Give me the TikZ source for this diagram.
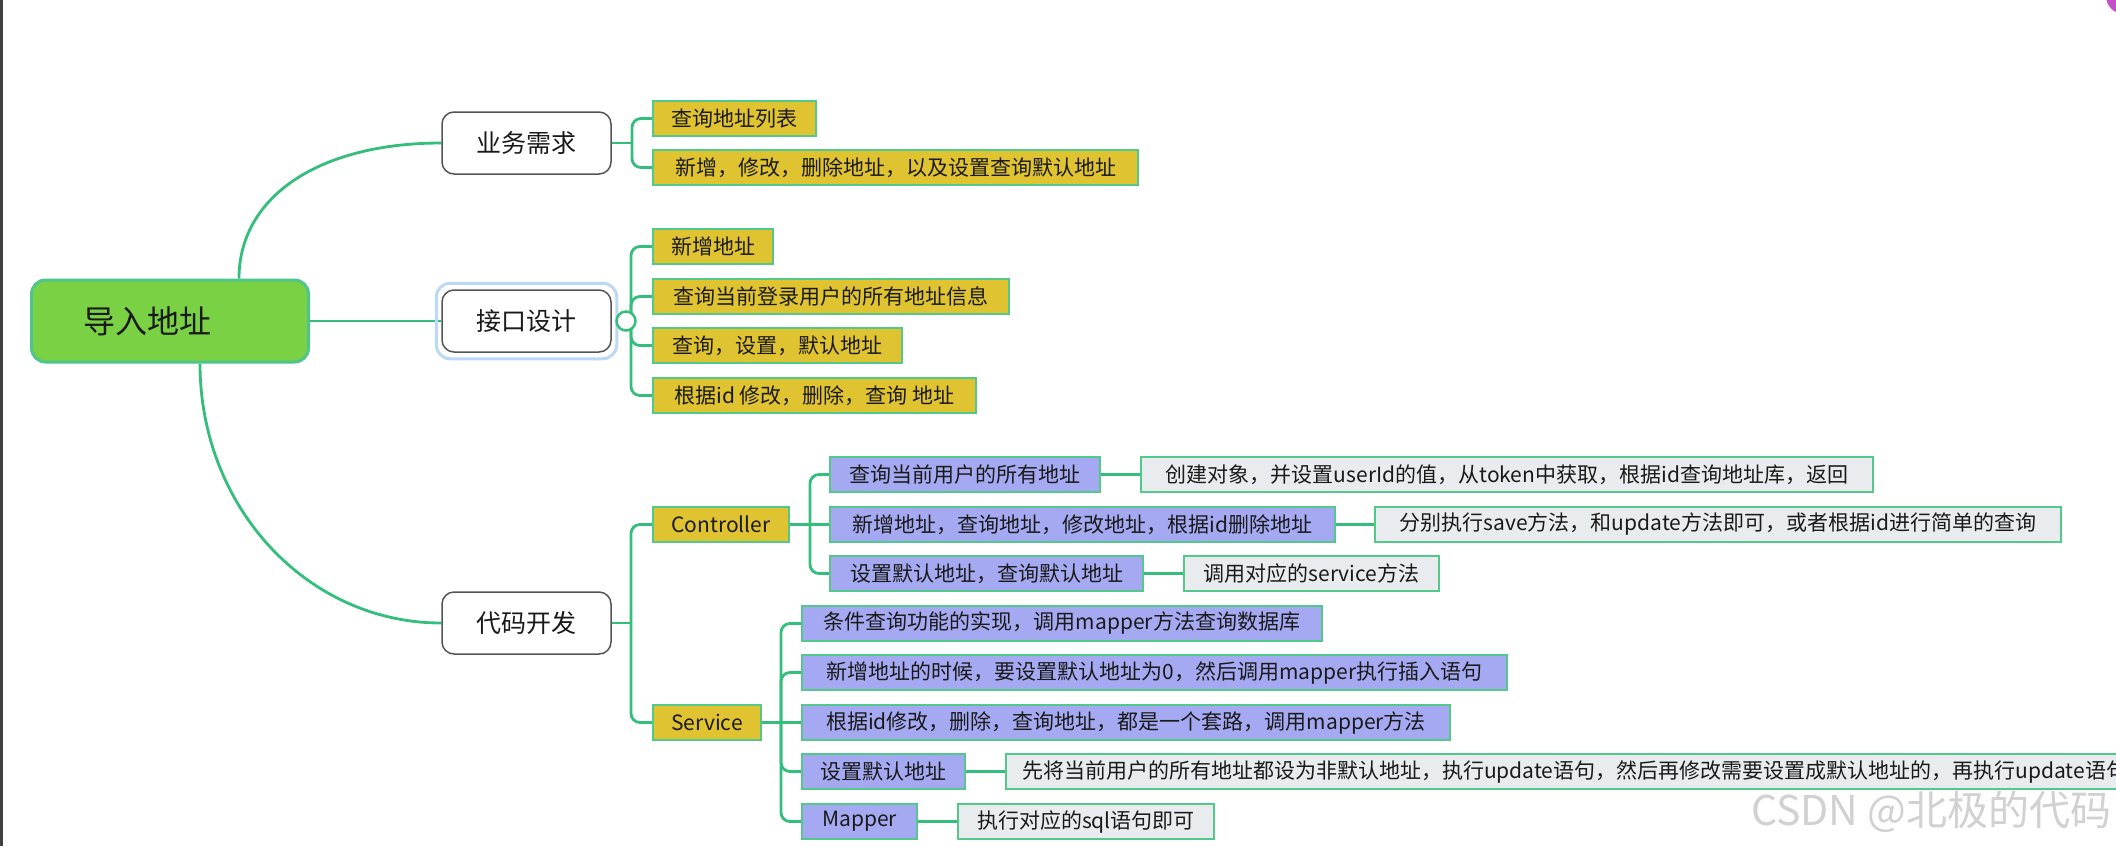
\documentclass[tikz,border=0pt]{standalone}
\usepackage{fontspec}
\setmainfont{Noto Sans CJK SC}
\usetikzlibrary{backgrounds,fit}
\definecolor{conn}{HTML}{33BE7B}
\definecolor{rootfill}{HTML}{7AD144}
\definecolor{rootdraw}{HTML}{4FC48C}
\definecolor{yel}{HTML}{E0C331}
\definecolor{pur}{HTML}{A4A9F2}
\definecolor{notec}{HTML}{E8ECEE}
\definecolor{bord}{HTML}{52C98A}
\definecolor{selc}{HTML}{BBD8F7}
\definecolor{txt}{HTML}{1A1A1A}
\definecolor{topicdraw}{HTML}{555555}
\definecolor{blob}{HTML}{C450C8}
\begin{document}
\begin{tikzpicture}[x=1pt,y=-1pt,
  link/.style={draw=conn, line width=2.8pt},
  bracket/.style={link, rounded corners=9pt},
  box/.style={draw=bord, line width=2pt, minimum height=35pt, inner xsep=0pt, inner ysep=0pt,
    text=txt, font=\fontsize{21}{24}\selectfont, anchor=west},
  ybox/.style={box, fill=yel},
  pbox/.style={box, fill=pur},
  nbox/.style={box, fill=notec},
  topic/.style={draw=topicdraw, line width=1.5pt, rounded corners=12pt, fill=white,
    minimum width=169pt, minimum height=62pt, inner sep=0pt, text=txt,
    font=\fontsize{25}{28}\selectfont},
  rootbox/.style={draw=rootdraw, line width=3pt, rounded corners=14pt, fill=rootfill,
    minimum width=277pt, minimum height=82pt, inner sep=0pt, text=txt,
    font=\fontsize{32}{36}\selectfont}]
\clip (0,0) rectangle (2116,846);

% root and topics
\node[rootbox] (root) at (170,321) {导入地址\hspace*{46pt}};
\node[topic] (t1) at (526.5,143) {业务需求};
\node[topic] (t2) at (526.5,321) {接口设计};
\node[topic] (t3) at (526.5,623) {代码开发};
\node[draw=selc, line width=3pt, rounded corners=14pt, fit=(t2), inner xsep=5pt, inner ysep=6pt] (t2sel) {};

% 业务需求
\node[ybox, minimum width=163pt] (a1) at (652,118.5) {查询地址列表};
\node[ybox, minimum width=485pt] (a2) at (652,167.5) {新增，修改，删除地址，以及设置查询默认地址};

% 接口设计
\node[ybox, minimum width=120pt] (b1) at (652,246.5) {新增地址};
\node[ybox, minimum width=356pt] (b2) at (652,296.5) {查询当前登录用户的所有地址信息};
\node[ybox, minimum width=249pt] (b3) at (652,345.5) {查询，设置，默认地址};
\node[ybox, minimum width=323pt] (b4) at (652,395.5) {根据id 修改，删除，查询 地址};

% 代码开发
\node[ybox, minimum width=136pt] (c1) at (652,524.5) {Controller};
\node[ybox, minimum width=108pt] (c2) at (652,722.5) {Service};

% Controller
\node[pbox, minimum width=270pt] (d1) at (829,474.5) {查询当前用户的所有地址};
\node[pbox, minimum width=505pt] (d2) at (829,524.5) {新增地址，查询地址，修改地址，根据id删除地址};
\node[pbox, minimum width=313pt] (d3) at (829,573.5) {设置默认地址，查询默认地址};
\node[nbox, minimum width=732pt] (e1) at (1140,474.5) {创建对象，并设置userId的值，从token中获取，根据id查询地址库，返回};
\node[nbox, minimum width=686pt] (e2) at (1374,524.5) {分别执行save方法，和update方法即可，或者根据id进行简单的查询};
\node[nbox, minimum width=255pt] (e3) at (1183,573.5) {调用对应的service方法};

% Service
\node[pbox, minimum width=520pt] (f1) at (801,623.5) {条件查询功能的实现，调用mapper方法查询数据库};
\node[pbox, minimum width=705pt] (f2) at (801,672.5) {新增地址的时候，要设置默认地址为0，然后调用mapper执行插入语句};
\node[pbox, minimum width=648pt] (f3) at (801,722.5) {根据id修改，删除，查询地址，都是一个套路，调用mapper方法};
\node[pbox, minimum width=163pt] (f4) at (801,771.5) {设置默认地址};
\node[pbox, minimum width=115pt] (f5) at (801,821.5) {Mapper};
\node[nbox, inner xsep=16pt] (g4) at (1005,771.5) {先将当前用户的所有地址都设为非默认地址，执行update语句，然后再修改需要设置成默认地址的，再执行update语句};
\node[nbox, minimum width=256pt] (g5) at (957,821.5) {执行对应的sql语句即可};

% junctions
\coordinate (ja) at (632,143);
\coordinate (jb) at (631,321);
\coordinate (jc) at (631,623);
\coordinate (jd) at (810,524.5);
\coordinate (jf) at (781,722.5);

\begin{pgfonlayer}{background}
\fill[white] (0,0) rectangle (2116,846);
\fill[black!75] (0,0) rectangle (2.5,846);
\fill[blob] (2124,-4) circle (18pt);

\draw[link] (root.east) -- (t2.west);
\draw[link] ([xshift=69pt]root.north) .. controls +(0,-82) and +(-122,0) .. (t1.west);
\draw[link] ([xshift=30pt]root.south) .. controls +(0,144) and +(-134,0) .. (t3.west);

\draw[link] (t1.east) -- (ja);
\draw[bracket] (ja) |- (a1.west);
\draw[bracket] (ja) |- (a2.west);

\draw[link] (t2sel.east) -- (jb);
\draw[bracket] (jb) |- (b1.west);
\draw[bracket] (jb) |- (b2.west);
\draw[bracket] (jb) |- (b3.west);
\draw[bracket] (jb) |- (b4.west);

\draw[link] (t3.east) -- (jc);
\draw[bracket] (jc) |- (c1.west);
\draw[bracket] (jc) |- (c2.west);

\draw[link] (c1.east) -- (d2.west);
\draw[bracket] (jd) |- (d1.west);
\draw[bracket] (jd) |- (d3.west);
\draw[link] (d1.east) -- (e1.west);
\draw[link] (d2.east) -- (e2.west);
\draw[link] (d3.east) -- (e3.west);

\draw[link] (c2.east) -- (f3.west);
\draw[bracket] (jf) |- (f1.west);
\draw[bracket] (jf) |- (f2.west);
\draw[bracket] (jf) |- (f4.west);
\draw[bracket] (jf) |- (f5.west);
\draw[link] (f4.east) -- (g4.west);
\draw[link] (f5.east) -- (g5.west);
\end{pgfonlayer}

\node[circle, draw=conn, fill=white, line width=2.5pt, minimum size=19pt, inner sep=0pt] (tog) at (626,321) {};

\node[anchor=east, text=black!18, font=\fontsize{41}{44}\selectfont] (wm) at (2115,812) {CSDN @北极的代码};
\end{tikzpicture}
\end{document}
